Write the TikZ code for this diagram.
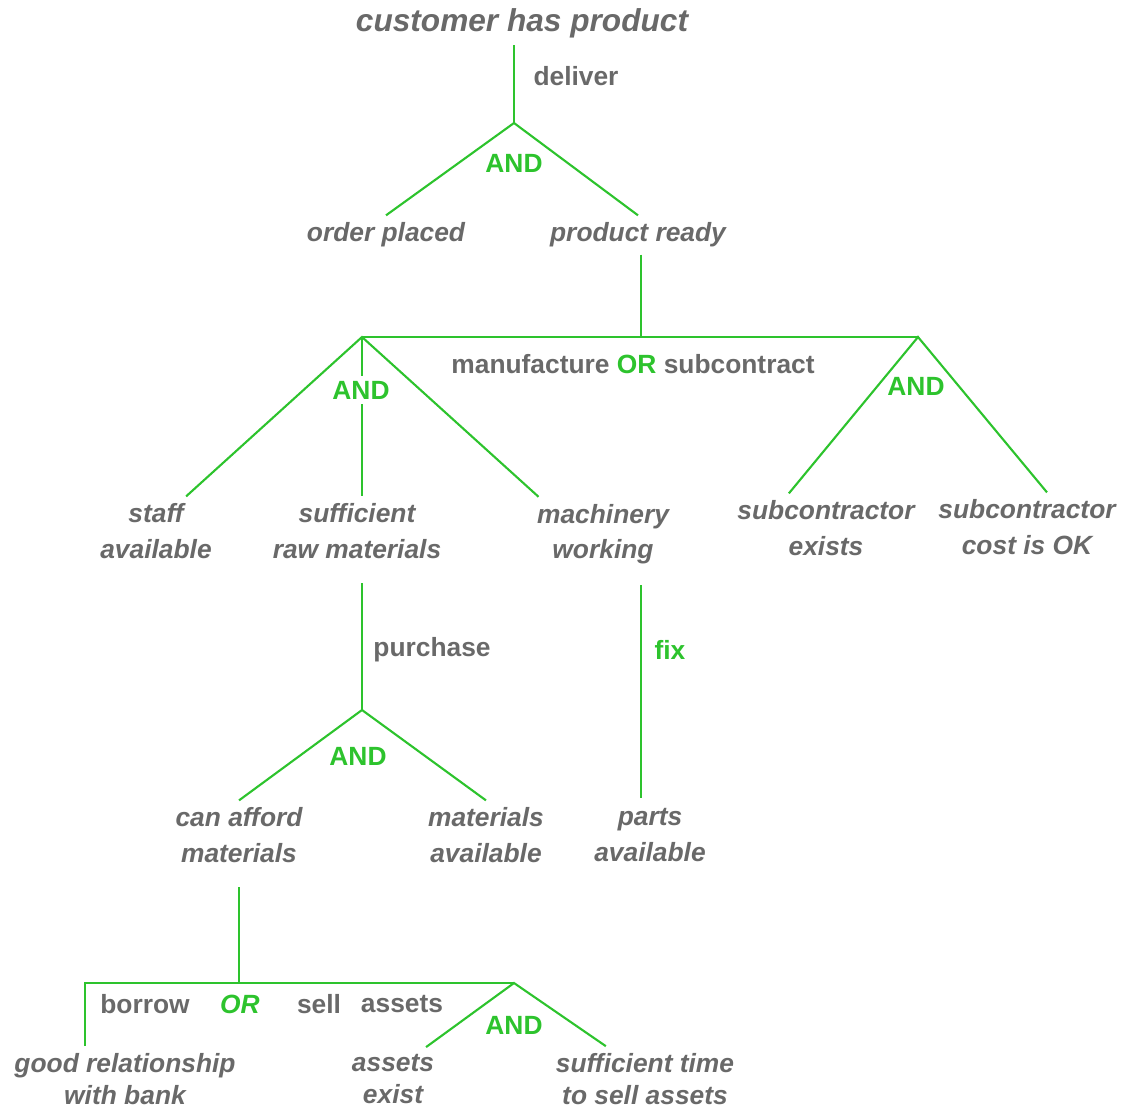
\documentclass[tikz,border=0pt]{standalone}
\usepackage{fontspec}
\setmainfont{Liberation Sans}
\usepackage{xcolor}
\usepackage{tikz}
\usetikzlibrary{positioning,calc}
\definecolor{gtree}{RGB}{45,195,45}
\definecolor{gtext}{RGB}{105,105,105}

\begin{document}
\begin{tikzpicture}[x=0.02cm,y=-0.02cm,font=\fontsize{15}{20}\selectfont\bfseries]
\tikzstyle{goal}=[text=gtext,font=\fontsize{15}{20}\selectfont\bfseries\itshape,align=center,inner sep=4pt]
\tikzstyle{act}=[text=gtext,inner sep=1pt]
\tikzstyle{gate}=[text=gtree,inner sep=1pt]
\tikzstyle{link}=[gtree,line width=1.2pt]
\useasboundingbox (0,0) rectangle (1128,1113);
% goals
\node[goal,font=\fontsize{18}{22}\selectfont\bfseries\itshape] (cp) at (522,23) {customer has product};
\node[goal] (op) at (386,235) {order placed};
\node[goal] (pr) at (638,235) {product ready};
\node[goal] (sa) at (156,531) {staff\\available};
\node[goal] (srm) at (357,531) {sufficient\\raw materials};
\node[goal] (mw) at (603,534) {machinery\\working};
\node[goal] (se) at (826,528) {subcontractor\\exists};
\node[goal] (sc) at (1027,527) {subcontractor\\cost is OK};
\node[goal] (caf) at (239,835) {can afford\\materials};
\node[goal] (mav) at (486,835) {materials\\available};
\node[goal] (pav) at (650,835) {parts\\available};
\node[goal,font=\fontsize{15}{18}\selectfont\bfseries\itshape] (grb) at (125,1079) {good relationship\\with bank};
\node[goal,font=\fontsize{15}{18}\selectfont\bfseries\itshape] (ae) at (393,1079) {assets\\exist};
\node[goal,font=\fontsize{15}{18}\selectfont\bfseries\itshape] (st) at (645,1079) {sufficient time\\to sell assets};
% junction points
\coordinate (j1) at (514,123);
\coordinate (j2) at (362,337);
\coordinate (j3) at (918,337);
\coordinate (j4) at (362,710);
\coordinate (j5) at (514,983);
\coordinate (j6) at (85,983);
\coordinate (j7) at (641,798);
% deliver
\draw[link] (cp.south -| j1) -- (j1);
\node[act] (dl) at (576,76) {deliver};
\draw[link] (op.north) -- (j1) -- (pr.north);
\node[gate] (g1) at (514,163) {AND};
% manufacture or subcontract
\draw[link] (pr.south -| j7) -- (j2 -| j7);
\draw[link] (j2) -- (j3);
\node[act] (ms) at (633,364) {manufacture \textcolor{gtree}{OR} subcontract};
\draw[link] (sa.49) -- (j2) -- (mw.150);
\draw[link] (j2) -- (j2 |- srm.north);
\node[gate,fill=white,inner sep=3pt] (g2) at (361,390) {AND};
\draw[link] (se.137) -- (j3) -- (sc.60);
\node[gate] (g3) at (916,386) {AND};
% purchase
\draw[link,shorten <=10pt] (j4 |- srm.south) -- (j4);
\node[act] (pu) at (432,650) {purchase};
\draw[link] (caf.north) -- (j4) -- (mav.north);
\node[gate] (g4) at (358,756) {AND};
% fix
\draw[link,shorten <=8pt] (j7 |- mw.south) -- (j7);
\node[gate] (fx) at (670,650) {fix};
% borrow or sell assets
\draw[link,shorten <=10pt] (caf.south) -- (caf.south |- j5);
\draw[link] (grb.north -| j6) -- (j6) -- (j5);
\node[act] (bo) at (145,1004) {borrow};
\node[gate,font=\fontsize{15}{20}\selectfont\bfseries\itshape] (g5) at (240,1004) {OR};
\node[act] (sl) at (319,1004) {sell};
\node[act] (as) at (402,1004) {assets};
\draw[link] (ae.44) -- (j5) -- (st.140);
\node[gate] (g6) at (514,1025) {AND};
\end{tikzpicture}
\end{document}
